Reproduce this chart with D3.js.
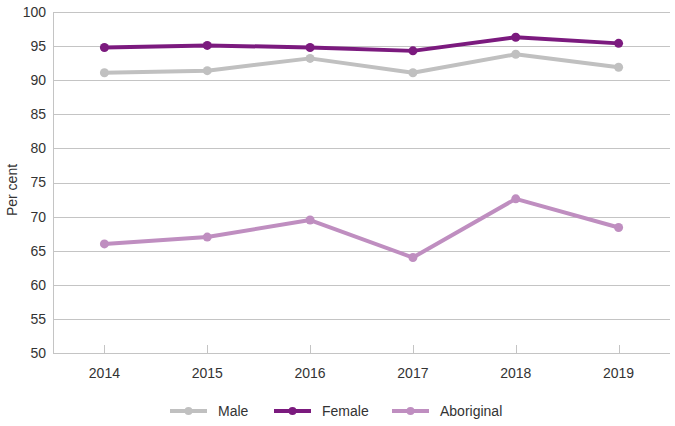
<!DOCTYPE html>
<html><head><meta charset="utf-8">
<script src="https://cdn.jsdelivr.net/npm/d3@7"></script>
<style>body{margin:0;background:#fff}svg{display:block}</style>
</head><body>
<svg id="c" width="675" height="426"></svg>
<script>
const years = ["2014","2015","2016","2017","2018","2019"];
const male = [91.1, 91.4, 93.2, 91.1, 93.8, 91.9];
const female = [94.8, 95.1, 94.8, 94.3, 96.3, 95.4];
const aboriginal = [66.0, 67.0, 69.5, 64.0, 72.6, 68.4];
const yTicks = [50,55,60,65,70,75,80,85,90,95,100];
const seriesNames = ["Male","Female","Aboriginal"];
const seriesColors = ["#c0c0c0","#7b1a7e","#bf8ec0"];
const seriesData = [male, female, aboriginal];

const svg = d3.select("#c");
const L = 53, R = 670, T = 12, B = 353;
const x = d3.scaleBand().domain(years).range([L, R]);
const y = d3.scaleLinear().domain([50, 100]).range([B, T]);
const font = "Liberation Sans, Arial, sans-serif";
const textCol = "#333";
const fs = 14;

svg.append("g").selectAll("line").data(yTicks).join("line")
  .attr("x1", L).attr("x2", R)
  .attr("y1", d => Math.round(y(d))+0.5).attr("y2", d => Math.round(y(d))+0.5)
  .attr("stroke", "#c4c4c4").attr("stroke-width", 1);
svg.append("line").attr("x1", L+0.5).attr("x2", L+0.5).attr("y1", T).attr("y2", B)
  .attr("stroke", "#c4c4c4");
svg.append("g").selectAll("text").data(yTicks).join("text")
  .attr("x", 46).attr("y", d => y(d)).attr("dy", "0.35em")
  .attr("text-anchor", "end").attr("font-family", font).attr("font-size", fs)
  .attr("fill", textCol).text(d => d);
svg.append("g").selectAll("line").data(years).join("line")
  .attr("x1", d => Math.round(x(d)+x.bandwidth()/2)+0.5)
  .attr("x2", d => Math.round(x(d)+x.bandwidth()/2)+0.5)
  .attr("y1", B-8).attr("y2", B).attr("stroke", "#c4c4c4");
svg.append("g").selectAll("text").data(years).join("text")
  .attr("x", d => x(d)+x.bandwidth()/2).attr("y", 373).attr("dy", "0.35em")
  .attr("text-anchor", "middle").attr("font-family", font).attr("font-size", fs)
  .attr("fill", textCol).text(d => d);
svg.append("text").attr("transform", "translate(12,190) rotate(-90)")
  .attr("text-anchor", "middle").attr("dy", "0.35em").attr("font-family", font).attr("font-size", fs)
  .attr("fill", textCol).text("Per cent");

const line = d3.line().x((d,i) => x(years[i])+x.bandwidth()/2).y(d => y(d));
seriesData.forEach((s, k) => {
  const g = svg.append("g");
  g.append("path").datum(s).attr("d", line).attr("fill", "none")
    .attr("stroke", seriesColors[k]).attr("stroke-width", 4).attr("stroke-linejoin", "round");
  g.selectAll("circle").data(s).join("circle")
    .attr("cx", (d,i) => x(years[i])+x.bandwidth()/2).attr("cy", d => y(d))
    .attr("r", 4.5).attr("fill", seriesColors[k]);
});

const legX = [170, 274, 392];
const leg = svg.append("g");
seriesNames.forEach((n, k) => {
  leg.append("line").attr("x1", legX[k]).attr("x2", legX[k]+37).attr("y1", 411).attr("y2", 411)
    .attr("stroke", seriesColors[k]).attr("stroke-width", 4);
  leg.append("circle").attr("cx", legX[k]+18.5).attr("cy", 411).attr("r", 4).attr("fill", seriesColors[k]);
  leg.append("text").attr("x", legX[k]+48).attr("y", 411).attr("dy", "0.35em")
    .attr("font-family", font).attr("font-size", fs).attr("fill", textCol).text(n);
});
</script>
</body></html>
